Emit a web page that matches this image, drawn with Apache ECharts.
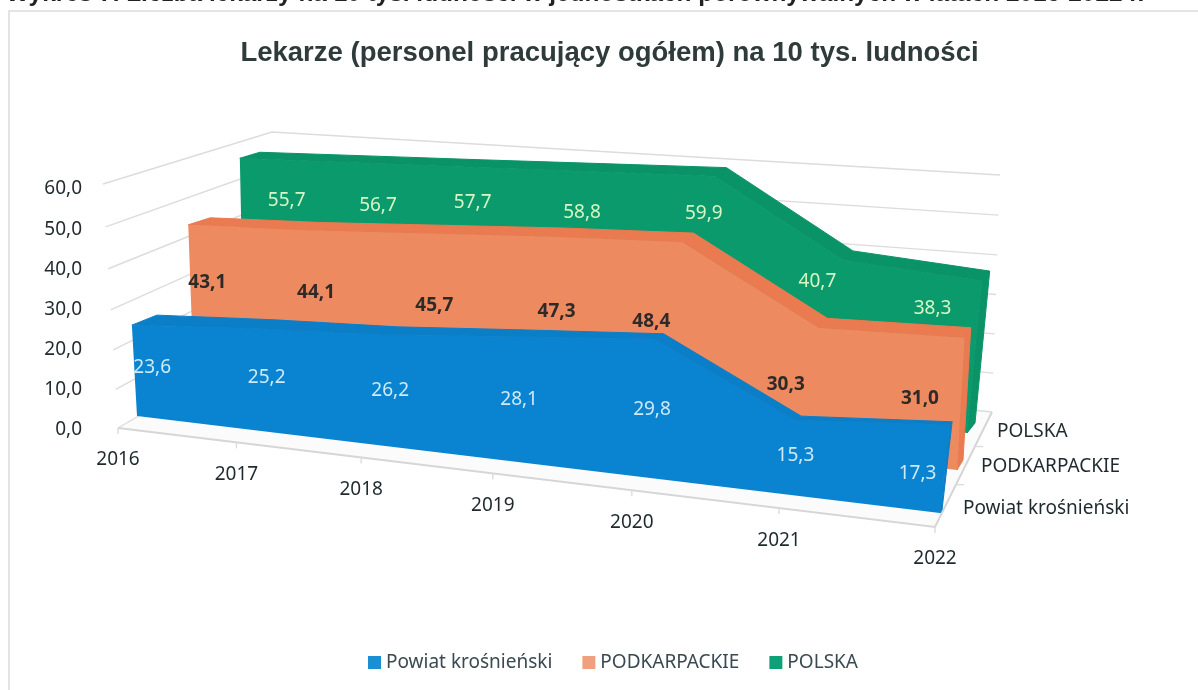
<!DOCTYPE html>
<html><head><meta charset="utf-8">
<style>html,body{margin:0;padding:0;background:#fff}#c{width:1198px;height:690px}</style>
<script src="https://cdn.jsdelivr.net/npm/echarts@6/dist/echarts.min.js"></script>
</head><body><div id="c"></div>
<script>
const categories = ['2016','2017','2018','2019','2020','2021','2022'];
const powiat = [23.6,25.2,26.2,28.1,29.8,15.3,17.3];
const podkarpackie = [43.1,44.1,45.7,47.3,48.4,30.3,31.0];
const polska = [55.7,56.7,57.7,58.8,59.9,40.7,38.3];
const yTicks = [0,10,20,30,40,50,60];
const seriesNames = ['Powiat krośnieński','PODKARPACKIE','POLSKA'];
const FONT = '"Noto Sans", sans-serif';

function quad(p00,p10,p11,p01){
  const dx1=p10[0]-p11[0],dx2=p01[0]-p11[0],sx=p00[0]-p10[0]+p11[0]-p01[0];
  const dy1=p10[1]-p11[1],dy2=p01[1]-p11[1],sy=p00[1]-p10[1]+p11[1]-p01[1];
  const den=dx1*dy2-dx2*dy1;
  const g=(sx*dy2-dx2*sy)/den,h=(dx1*sy-sx*dy1)/den;
  const a=p10[0]-p00[0]+g*p10[0],b=p01[0]-p00[0]+h*p01[0],c=p00[0];
  const d=p10[1]-p00[1]+g*p10[1],e=p01[1]-p00[1]+h*p01[1],f=p00[1];
  return (u,v)=>{const w=g*u+h*v+1;return [(a*u+b*v+c)/w,(d*u+e*v+f)/w];};
}
const lerp=(a,b,s)=>[a[0]+(b[0]-a[0])*s,a[1]+(b[1]-a[1])*s];
function plane(p00,p10,p11,p01,k){
  return (u,v)=>{const s=u/(u+k*(1-u));return lerp(lerp(p00,p10,s),lerp(p01,p11,s),v);};
}
// Projection planes of the pseudo-3D view (layout only)
const planes = {
  blue:{map:plane([137,416],[940,513],[975,207],[124,185],1.16),dL:[25,-10],dR:[2,-3],
    front:'#0a84d0',top:'#0b7ec8',text:'#cdeaf6',weight:'normal',tf:.55,
    nudge:[[18,2],[13,3],[11,6],[8,7],[2,8],[3,2],[-28,9]],name:[23,-4]},
  orange:{map:plane([194,385],[957,470],[972,214],[186,162],1.16),dL:[22,-7],dR:[6,-10],
    front:'#ee8a60',top:'#ea7a50',text:'#2e2a28',weight:'bold',tf:.64,
    nudge:[[17,0],[12,2],[11,9],[8,7],[-29,9],[-31,11],[-42,13]],name:[24,-3]},
  green:{map:plane([244,356],[967,433],[990,195],[239.5,143],1.16),dL:[20,-6],dR:[8,-10],
    front:'#0a9a6c',top:'#0a9367',text:'#d8f6c4',weight:'normal',tf:.79,
    nudge:[[46,1],[28,0],[8,-9],[-3,-5],[-8,-11],[-23,-12],[-46,-4]],name:[30,-1]}
};
const floorMap = quad([118,428],[935,527],[992,412],[276,336]);
const floorEdge = plane([118,428],[935,527],[935,527],[118,428],1.18);
const leftWall = quad([118,428],[276,336],[272,132],[103,184]);
const backWall = quad([276,336],[992,412],[1000,175],[272,132]);
const N = categories.length-1;

function unit(api,i,v){
  const o=api.coord([0,0]),e=api.coord([N,60]),p=api.coord([i,v]);
  return [(p[0]-o[0])/(e[0]-o[0]),(p[1]-o[1])/(e[1]-o[1])];
}
function makeArea(key,values,seriesIdx,z){
  const P=planes[key];
  const off=u=>[P.dL[0]+(P.dR[0]-P.dL[0])*u,P.dL[1]+(P.dR[1]-P.dL[1])*u];
  return {
    name:seriesNames[seriesIdx],type:'custom',coordinateSystem:'cartesian2d',z,
    itemStyle:{color:P.front},silent:true,clip:false,
    encode:{x:0,y:1},
    data:values.map((v,i)=>[i,v]),
    renderItem(params,api){
      const i=params.dataIndex,children=[];
      if(i===0){
        const front=[],back=[];
        values.forEach((v,k)=>{
          const [u,t]=unit(api,k,v),p=P.map(u,t),d=off(u);
          front.push(p);back.push([p[0]+d[0],p[1]+d[1]]);
        });
        const fl0=P.map(0,0),fl1=P.map(1,0),dr=off(1);
        children.push({type:'polygon',shape:{points:[fl1,front[N],back[N],[fl1[0]+dr[0],fl1[1]+dr[1]]]},
          style:{fill:P.top,stroke:P.top,lineWidth:1}});
        children.push({type:'polygon',shape:{points:front.concat(back.slice().reverse())},
          style:{fill:P.top,stroke:P.top,lineWidth:1}});
        children.push({type:'polygon',shape:{points:[fl0].concat(front,[fl1])},
          style:{fill:P.front}});
      }
      const v=values[i],[u,t]=unit(api,i,v),q=P.map(u,t*P.tf);
      children.push({type:'text',z2:10,style:{text:v.toFixed(1).replace('.',','),
        x:q[0]+P.nudge[i][0],y:q[1]+P.nudge[i][1],align:'center',verticalAlign:'middle',
        fill:P.text,font:P.weight+' 19px '+FONT}});
      if(i===N){
        const f=P.map(1,0);
        children.push({type:'text',style:{text:seriesNames[seriesIdx],x:f[0]+P.name[0],y:f[1]+P.name[1],
          align:'left',verticalAlign:'middle',fill:'#1f2a2e',font:'19px '+FONT}});
      }
      return {type:'group',children};
    }
  };
}
const wallSeries = {
  type:'custom',coordinateSystem:'cartesian2d',z:0,silent:true,clip:false,
  data:categories.map((c,i)=>[i,0]),
  encode:{x:0,y:1},
  renderItem(params,api){
    const i=params.dataIndex,children=[],line='#dcdcdc';
    if(i===0){
      children.push({type:'polygon',shape:{points:[floorMap(0,0),floorMap(1,0),floorMap(1,1),floorMap(0,1)]},
        style:{fill:'#fbfbfb'}});
      yTicks.forEach(y=>{
        const [,t]=unit(api,0,y);
        children.push({type:'polyline',shape:{points:[leftWall(0,t),leftWall(1,t),backWall(1,t)]},
          style:{stroke:line,lineWidth:1.4,fill:null}});
      });
      children.push({type:'polyline',shape:{points:[floorMap(0,0),floorMap(1,0),floorMap(1,1)]},
        style:{stroke:'#d6d6d6',lineWidth:2,fill:null}});
      [1/3,2/3].forEach(d=>{
        const p=floorMap(1,d);
        children.push({type:'line',shape:{x1:p[0],y1:p[1],x2:p[0]+8,y2:p[1]},style:{stroke:line,lineWidth:1.4}});
      });
    }
    const [u]=unit(api,i,0),p=floorEdge(u,0);
    children.push({type:'line',shape:{x1:p[0],y1:p[1],x2:p[0],y2:p[1]+6},style:{stroke:line,lineWidth:1.4}});
    children.push({type:'text',style:{text:categories[i],x:p[0],y:p[1]+32,align:'center',verticalAlign:'middle',
      fill:'#1f2a2e',font:'19px '+FONT}});
    return {type:'group',children};
  }
};
const chart = echarts.init(document.getElementById('c'),null,{renderer:'canvas'});
chart.setOption({
  animation:false,backgroundColor:'#fff',
  title:{text:'Lekarze (personel pracujący ogółem) na 10 tys. ludności',left:604.5,top:34,textAlign:'center',
    textStyle:{fontFamily:'"Liberation Sans",Arial,sans-serif',fontSize:27.5,fontWeight:'bold',color:'#2f3a3a'}},
  graphic:[
    {type:'polyline',silent:true,z:-1,shape:{points:[[9,690],[9,11],[1198,11]]},style:{stroke:'#dcdcdc',lineWidth:1.5,fill:null}},
    {type:'text',silent:true,left:6,top:-18,style:{text:'Wykres 7. Liczba lekarzy na 10 tys. ludności w jednostkach porównywalnych w latach 2016-2022 r.',
      fill:'#222',font:'bold 24.4px "Liberation Sans",Arial,sans-serif'}}
  ],
  legend:{bottom:13,left:363,itemWidth:13,itemHeight:13,itemGap:30,
    textStyle:{fontFamily:FONT,fontSize:19,color:'#3a4a50'},
    data:[
      {name:seriesNames[0],icon:'rect',itemStyle:{color:'#1a8fd2'}},
      {name:seriesNames[1],icon:'rect',itemStyle:{color:'#f0a07c'}},
      {name:seriesNames[2],icon:'rect',itemStyle:{color:'#10a078'}}
    ]},
  grid:{left:92,top:189,width:900,height:241},
  xAxis:{type:'category',data:categories,boundaryGap:false,show:false},
  yAxis:{type:'value',min:0,max:60,interval:10,axisLine:{show:false},axisTick:{show:false},splitLine:{show:false},
    axisLabel:{margin:10,fontFamily:FONT,fontSize:19,color:'#1f2a2e',formatter:v=>v.toFixed(1).replace('.',',')}},
  series:[wallSeries,makeArea('green',polska,2,1),makeArea('orange',podkarpackie,1,2),makeArea('blue',powiat,0,3)]
});
</script></body></html>
